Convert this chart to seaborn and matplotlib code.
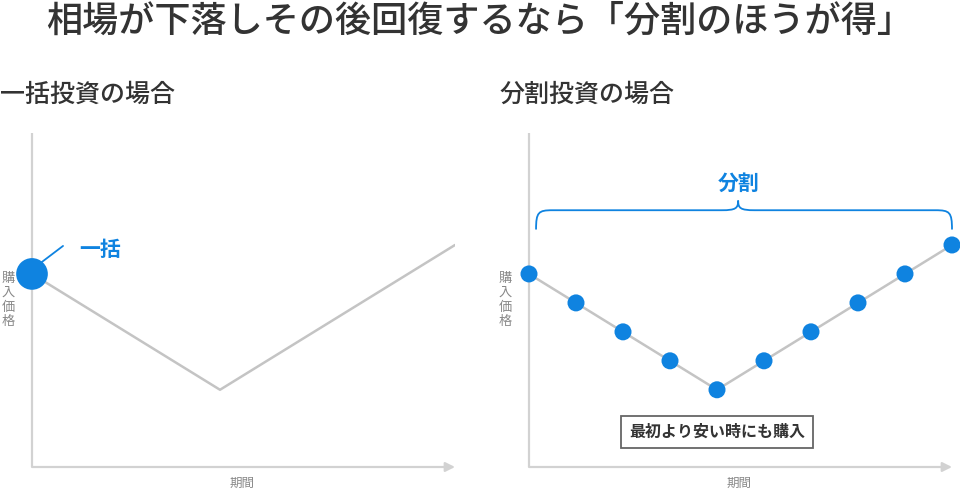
import numpy as np
import matplotlib
matplotlib.use("Agg")
import matplotlib.pyplot as plt
from matplotlib.path import Path
from matplotlib.patches import PathPatch
import seaborn as sns

# data
lump_x = [0, 4, 9]
lump_y = [100, 40, 115]
split_x = [0, 1, 2, 3, 4, 5, 6, 7, 8, 9]
split_y = [100, 85, 70, 55, 40, 55, 70, 85, 100, 115]

title = "相場が下落しその後回復するなら「分割のほうが得」"
sub_left = "一括投資の場合"
sub_right = "分割投資の場合"
ylabel = "購入価格"
xlabel = "期間"

BLUE = "#0f83e0"
LINE = "#c4c4c4"
AXIS = "#d2d2d2"
TEXT = "#333333"

sns.set_style("white")
plt.rcParams["font.family"] = ["Noto Sans CJK JP", "DejaVu Sans"]

W, H = 960, 491
fig = plt.figure(figsize=(9.6, 4.91), dpi=100)


def fig_axes(x0, x1, ytop, ybot):
    return fig.add_axes([x0 / W, (H - ybot) / H, (x1 - x0) / W, (ybot - ytop) / H])


ax1 = fig_axes(32, 455, 133, 467)
ax2 = fig_axes(529, 952, 133, 467)

for ax in (ax1, ax2):
    ax.set_xlim(0, 9)
    ax.set_ylim(0, 173)
    ax.axis("off")
    ax.plot([0, 0], [0, 1], transform=ax.transAxes, color=AXIS, lw=1.6,
            clip_on=False, solid_capstyle="butt")
    ax.annotate("", xy=(1.0, 0), xytext=(0, 0), xycoords="axes fraction",
                arrowprops=dict(arrowstyle="-|>", color=AXIS, lw=1.6,
                                mutation_scale=14, shrinkA=0, shrinkB=0))
    ax.text(-0.057, 0.5, "\n".join(ylabel), transform=ax.transAxes,
            ha="center", va="center", fontsize=9.5, color="#888888",
            linespacing=1.15)
    ax.text(0.497, -0.05, xlabel, transform=ax.transAxes, ha="center",
            va="center", fontsize=9, color="#888888")

# left: lump sum
sns.lineplot(x=lump_x, y=lump_y, ax=ax1, color=LINE, lw=1.8)
sns.scatterplot(x=lump_x[:1], y=lump_y[:1], ax=ax1, color=BLUE, s=520,
                edgecolor="none", clip_on=False, zorder=5)
ax1.plot([0.2, 0.66], [106, 114.5], color=BLUE, lw=1.3, clip_on=False)
ax1.text(1.45, 112.5, "一括", color=BLUE, fontsize=15, fontweight="bold",
         ha="center", va="center")

# right: split
sns.lineplot(x=split_x, y=split_y, ax=ax2, color=LINE, lw=1.8)
sns.scatterplot(x=split_x, y=split_y, ax=ax2, color=BLUE, s=150,
                edgecolor="none", clip_on=False, zorder=5)

# brace over the split points
xl, xr, xm = 0.15, 9.0, 4.45
yb, yh, yt = 123, 133, 138
r = 0.35
verts = [(xl, yb), (xl, yh - 1), (xl + 0.05, yh), (xl + r, yh),
         (xm - r, yh), (xm - 0.05, yh), (xm, yh + 1), (xm, yt),
         (xm, yh + 1), (xm + 0.05, yh), (xm + r, yh),
         (xr - r, yh), (xr - 0.05, yh), (xr, yh - 1), (xr, yb)]
codes = [Path.MOVETO, Path.CURVE4, Path.CURVE4, Path.CURVE4,
         Path.LINETO, Path.CURVE4, Path.CURVE4, Path.CURVE4,
         Path.CURVE4, Path.CURVE4, Path.CURVE4,
         Path.LINETO, Path.CURVE4, Path.CURVE4, Path.CURVE4]
ax2.add_patch(PathPatch(Path(verts, codes), fill=False, edgecolor=BLUE,
                        lw=1.3, clip_on=False))
ax2.text(4.45, 147, "分割", color=BLUE, fontsize=15, fontweight="bold",
         ha="center", va="center")

ax2.text(4.0, 18, "最初より安い時にも購入", color=TEXT, fontsize=11.5,
         fontweight="bold", ha="center", va="center",
         bbox=dict(boxstyle="square,pad=0.5", fc="white", ec="#666666", lw=1.3))

# titles
fig.text(0.5, 1 - 22 / H, title, ha="center", va="center", fontsize=26,
         color=TEXT, fontweight="medium")
fig.text(0.0, 1 - 95 / H, sub_left, ha="left", va="center", fontsize=18,
         color=TEXT, fontweight="medium")
fig.text(500 / W, 1 - 95 / H, sub_right, ha="left", va="center", fontsize=18,
         color=TEXT, fontweight="medium")

fig.savefig("out.png", dpi=100, facecolor="white")
